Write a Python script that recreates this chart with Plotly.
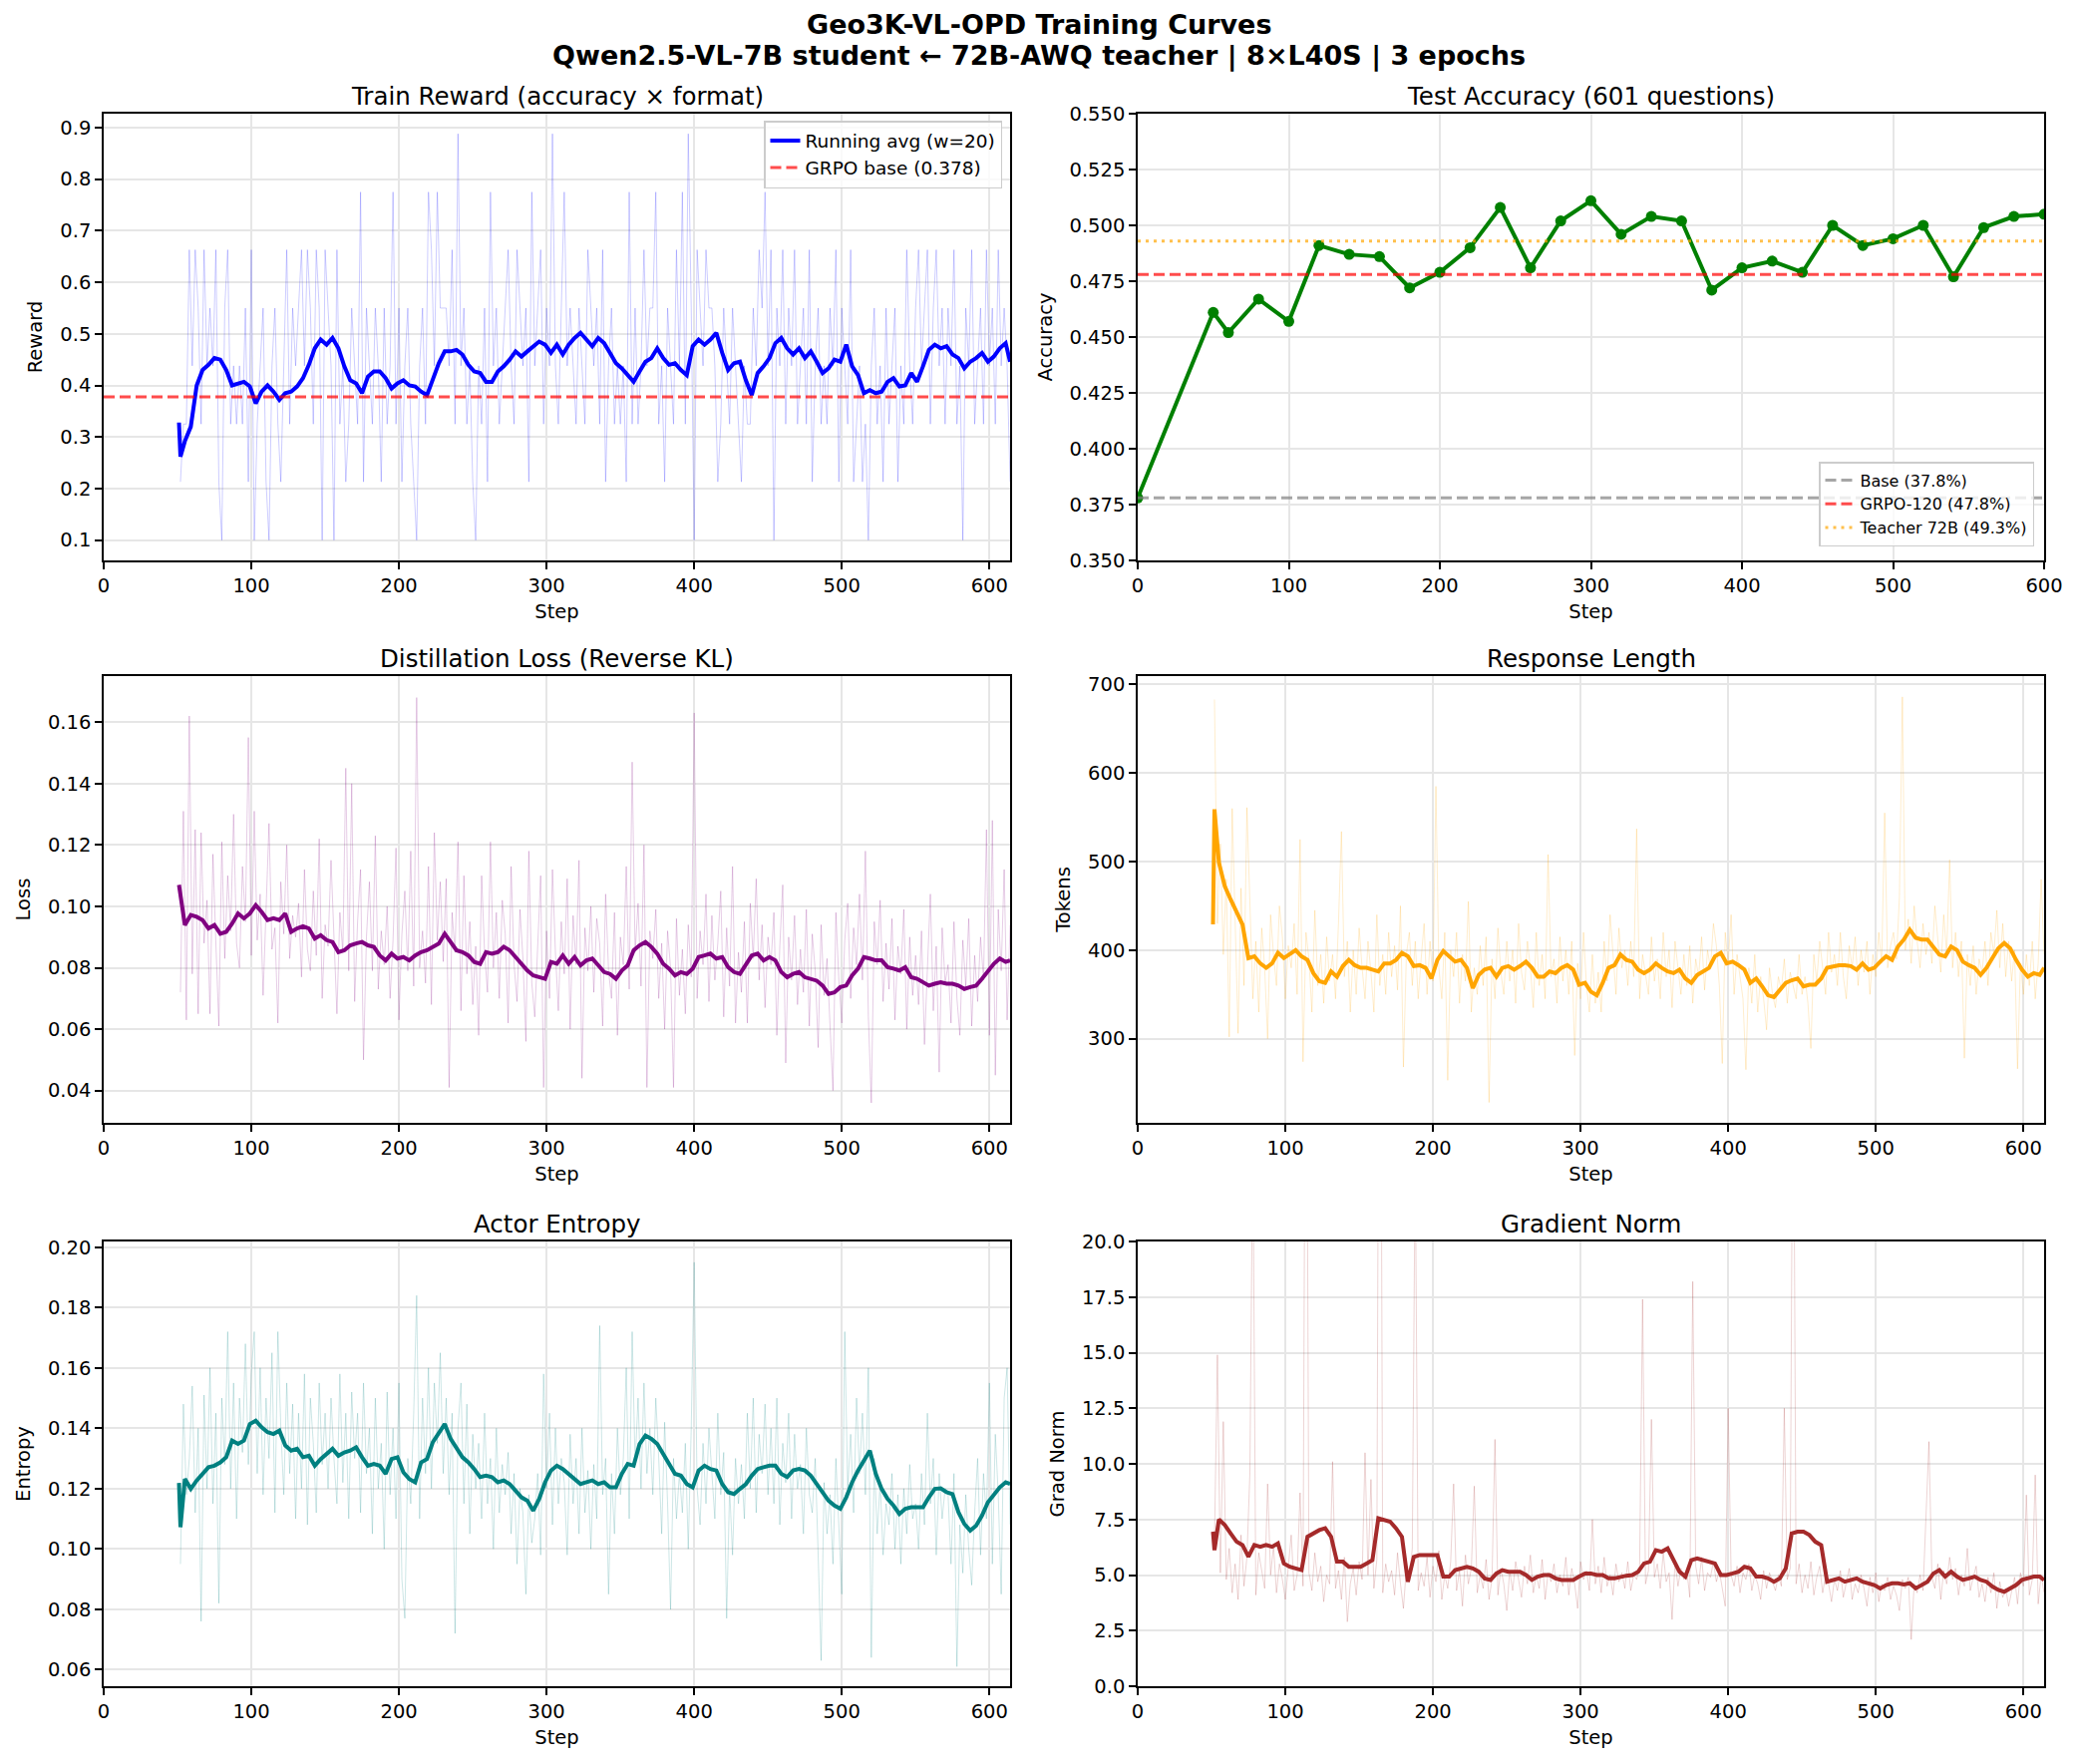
import plotly.graph_objects as go

# ---------------------------------------------------------------- data
RAW_STEPS = list(range(52, 615, 2))
AVG_STEPS = [51, 52] + list(range(55, 612, 4)) + [614]

REWARD_RAW = [
    0.213, 0.325, 0.325, 0.663, 0.438, 0.663, 0.55, 0.325, 0.663, 0.438,
    0.55, 0.438, 0.663, 0.213, 0.1, 0.55, 0.663, 0.325, 0.438, 0.325,
    0.438, 0.325, 0.55, 0.213, 0.663, 0.1, 0.325, 0.438, 0.55, 0.213,
    0.1, 0.438, 0.55, 0.325, 0.213, 0.438, 0.663, 0.325, 0.55, 0.438,
    0.55, 0.663, 0.438, 0.663, 0.55, 0.325, 0.663, 0.55, 0.1, 0.663,
    0.55, 0.438, 0.1, 0.663, 0.325, 0.438, 0.213, 0.325, 0.55, 0.438,
    0.325, 0.775, 0.213, 0.55, 0.438, 0.325, 0.55, 0.438, 0.213, 0.55,
    0.325, 0.438, 0.775, 0.325, 0.55, 0.213, 0.438, 0.55, 0.325, 0.213,
    0.1, 0.438, 0.55, 0.325, 0.775, 0.663, 0.438, 0.775, 0.55, 0.55,
    0.55, 0.438, 0.663, 0.325, 0.888, 0.438, 0.55, 0.325, 0.438, 0.213,
    0.1, 0.438, 0.325, 0.55, 0.213, 0.775, 0.438, 0.55, 0.325, 0.438,
    0.55, 0.663, 0.438, 0.325, 0.663, 0.55, 0.438, 0.55, 0.213, 0.775,
    0.438, 0.55, 0.663, 0.325, 0.55, 0.438, 0.888, 0.438, 0.325, 0.55,
    0.775, 0.438, 0.55, 0.438, 0.325, 0.55, 0.438, 0.325, 0.663, 0.55,
    0.438, 0.55, 0.325, 0.663, 0.213, 0.438, 0.55, 0.325, 0.438, 0.325,
    0.438, 0.213, 0.775, 0.325, 0.55, 0.325, 0.438, 0.663, 0.438, 0.55,
    0.55, 0.775, 0.325, 0.438, 0.213, 0.55, 0.438, 0.325, 0.663, 0.438,
    0.775, 0.325, 0.888, 0.55, 0.1, 0.663, 0.55, 0.438, 0.663, 0.55,
    0.55, 0.438, 0.213, 0.325, 0.55, 0.438, 0.325, 0.55, 0.438, 0.325,
    0.213, 0.438, 0.325, 0.325, 0.55, 0.438, 0.663, 0.55, 0.775, 0.438,
    0.663, 0.1, 0.55, 0.438, 0.663, 0.325, 0.55, 0.438, 0.663, 0.325,
    0.438, 0.55, 0.325, 0.663, 0.213, 0.438, 0.55, 0.325, 0.438, 0.325,
    0.55, 0.438, 0.663, 0.213, 0.55, 0.438, 0.325, 0.663, 0.213, 0.325,
    0.438, 0.213, 0.325, 0.1, 0.438, 0.55, 0.325, 0.438, 0.213, 0.55,
    0.325, 0.438, 0.55, 0.213, 0.438, 0.325, 0.663, 0.438, 0.325, 0.55,
    0.663, 0.438, 0.55, 0.663, 0.325, 0.55, 0.663, 0.438, 0.55, 0.325,
    0.55, 0.438, 0.663, 0.325, 0.438, 0.1, 0.55, 0.438, 0.663, 0.325,
    0.438, 0.55, 0.325, 0.663, 0.438, 0.55, 0.325, 0.663, 0.438, 0.55,
    0.438, 0.213,
]
REWARD_AVG = [
    0.328, 0.262, 0.292, 0.32, 0.40, 0.43, 0.44, 0.453, 0.45, 0.43,
    0.40, 0.404, 0.407, 0.398, 0.365, 0.388, 0.40, 0.388, 0.372, 0.385,
    0.388, 0.398, 0.414, 0.44, 0.472, 0.489, 0.479, 0.492, 0.472, 0.437,
    0.41, 0.404, 0.385, 0.417, 0.427, 0.427, 0.414, 0.394, 0.404, 0.41,
    0.40, 0.398, 0.388, 0.381, 0.414, 0.443, 0.466, 0.466, 0.469, 0.46,
    0.44, 0.427, 0.424, 0.407, 0.407, 0.427, 0.437, 0.45, 0.466, 0.456,
    0.466, 0.476, 0.485, 0.479, 0.463, 0.479, 0.46, 0.479, 0.492, 0.502,
    0.489, 0.476, 0.492, 0.482, 0.463, 0.443, 0.433, 0.42, 0.407, 0.427,
    0.446, 0.453, 0.472, 0.453, 0.44, 0.443, 0.43, 0.42, 0.476, 0.489,
    0.479, 0.489, 0.502, 0.463, 0.43, 0.443, 0.446, 0.41, 0.381, 0.424,
    0.437, 0.453, 0.482, 0.492, 0.472, 0.46, 0.472, 0.453, 0.466, 0.446,
    0.424, 0.433, 0.45, 0.446, 0.479, 0.437, 0.42, 0.385, 0.391, 0.385,
    0.388, 0.407, 0.414, 0.398, 0.40, 0.424, 0.407, 0.437, 0.469, 0.479,
    0.472, 0.476, 0.46, 0.453, 0.433, 0.446, 0.453, 0.463, 0.446, 0.456,
    0.472, 0.482, 0.446,
]
GRPO_BASE_REWARD = 0.378

ACC_STEPS = [0, 50, 60, 80, 100, 120, 140, 160, 180, 200, 220, 240, 260, 280, 300,
             320, 340, 360, 380, 400, 420, 440, 460, 480, 500, 520, 540, 560, 580, 600]
ACC = [0.378, 0.461, 0.452, 0.467, 0.457, 0.491, 0.487, 0.486, 0.472, 0.479,
       0.490, 0.508, 0.481, 0.502, 0.511, 0.496, 0.504, 0.502, 0.471, 0.481,
       0.484, 0.479, 0.500, 0.491, 0.494, 0.500, 0.477, 0.499, 0.504, 0.505]
ACC_BASE = 0.378
ACC_GRPO = 0.478
ACC_TEACHER = 0.493

LOSS_RAW = [
    0.072, 0.131, 0.063, 0.162, 0.078, 0.125, 0.065, 0.124, 0.088, 0.102,
    0.065, 0.117, 0.088, 0.061, 0.121, 0.083, 0.110, 0.092, 0.130, 0.088,
    0.080, 0.113, 0.095, 0.155, 0.084, 0.131, 0.089, 0.104, 0.071, 0.102,
    0.127, 0.086, 0.093, 0.062, 0.108, 0.091, 0.120, 0.083, 0.097, 0.090,
    0.101, 0.077, 0.112, 0.086, 0.079, 0.105, 0.084, 0.122, 0.070, 0.094,
    0.087, 0.115, 0.089, 0.065, 0.098, 0.085, 0.145, 0.079, 0.140, 0.069,
    0.095, 0.112, 0.050, 0.090, 0.108, 0.079, 0.123, 0.073, 0.092, 0.081,
    0.100, 0.070, 0.089, 0.119, 0.063, 0.091, 0.105, 0.079, 0.118, 0.074,
    0.168, 0.080, 0.092, 0.075, 0.113, 0.068, 0.124, 0.089, 0.108, 0.082,
    0.109, 0.041, 0.098, 0.085, 0.121, 0.066, 0.110, 0.078, 0.095, 0.068,
    0.087, 0.058, 0.110, 0.085, 0.072, 0.121, 0.080, 0.098, 0.070, 0.102,
    0.091, 0.062, 0.113, 0.081, 0.069, 0.099, 0.083, 0.056, 0.118, 0.075,
    0.064, 0.087, 0.110, 0.041, 0.092, 0.070, 0.112, 0.085, 0.066, 0.095,
    0.078, 0.109, 0.060, 0.097, 0.081, 0.115, 0.044, 0.093, 0.079, 0.100,
    0.072, 0.096, 0.088, 0.061, 0.104, 0.079, 0.070, 0.098, 0.058, 0.090,
    0.081, 0.113, 0.073, 0.147, 0.085, 0.101, 0.074, 0.120, 0.041, 0.092,
    0.083, 0.099, 0.070, 0.088, 0.060, 0.092, 0.080, 0.041, 0.096, 0.071,
    0.086, 0.065, 0.094, 0.077, 0.163, 0.070, 0.092, 0.081, 0.104, 0.069,
    0.097, 0.076, 0.088, 0.105, 0.064, 0.093, 0.074, 0.113, 0.062, 0.085,
    0.072, 0.095, 0.062, 0.101, 0.083, 0.109, 0.076, 0.094, 0.067, 0.090,
    0.081, 0.098, 0.058, 0.087, 0.107, 0.049, 0.090, 0.076, 0.097, 0.068,
    0.086, 0.072, 0.099, 0.061, 0.091, 0.079, 0.054, 0.094, 0.071, 0.083,
    0.059, 0.040, 0.098, 0.076, 0.062, 0.089, 0.101, 0.070, 0.093, 0.081,
    0.104, 0.076, 0.118, 0.064, 0.036, 0.095, 0.081, 0.102, 0.069, 0.088,
    0.073, 0.096, 0.063, 0.087, 0.078, 0.099, 0.060, 0.090, 0.071, 0.084,
    0.068, 0.092, 0.055, 0.081, 0.104, 0.066, 0.087, 0.046, 0.093, 0.075,
    0.081, 0.062, 0.095, 0.070, 0.058, 0.089, 0.074, 0.096, 0.061, 0.084,
    0.069, 0.090, 0.076, 0.125, 0.058, 0.128, 0.045, 0.099, 0.079, 0.112,
    0.063, 0.094,
]
LOSS_AVG = [
    0.107, 0.104, 0.0939, 0.0972, 0.0966, 0.0955, 0.0928, 0.0939, 0.0911, 0.0917,
    0.0944, 0.0977, 0.0961, 0.0977, 0.1004, 0.0982, 0.0955, 0.0961, 0.0955, 0.0977,
    0.0917, 0.0928, 0.0935, 0.0928, 0.0895, 0.0906, 0.089, 0.0884, 0.0851, 0.0857,
    0.0873, 0.0879, 0.0884, 0.0873, 0.0868, 0.084, 0.0824, 0.0846, 0.083, 0.0835,
    0.0824, 0.084, 0.0851, 0.0857, 0.0868, 0.0879, 0.0911, 0.0884, 0.0857, 0.0851,
    0.084, 0.0819, 0.0813, 0.0851, 0.0846, 0.0851, 0.0868, 0.0857, 0.0835, 0.0813,
    0.0791, 0.0775, 0.0769, 0.0764, 0.0819, 0.0813, 0.084, 0.0813, 0.0835, 0.0808,
    0.0824, 0.083, 0.0808, 0.0786, 0.078, 0.0764, 0.0791, 0.0808, 0.0857, 0.0873,
    0.0884, 0.0868, 0.0846, 0.0813, 0.0797, 0.0775, 0.0786, 0.078, 0.0797, 0.0835,
    0.084, 0.0846, 0.083, 0.0835, 0.0802, 0.0786, 0.078, 0.0813, 0.084, 0.0846,
    0.0824, 0.0835, 0.0824, 0.0786, 0.0769, 0.078, 0.0786, 0.0769, 0.0764, 0.0758,
    0.0742, 0.0715, 0.072, 0.0737, 0.0742, 0.0775, 0.0797, 0.0835, 0.083, 0.0824,
    0.0824, 0.0802, 0.0797, 0.0791, 0.0802, 0.0769, 0.0764, 0.0753, 0.0742, 0.0748,
    0.0753, 0.0748, 0.0748, 0.0742, 0.0731, 0.0737, 0.0742, 0.0764, 0.0791, 0.0813,
    0.083, 0.0819, 0.0824,
]

LENGTH_RAW = [
    683, 430, 520, 395, 480, 302, 560, 420, 306, 470,
    360, 561, 440, 345, 410, 330, 425, 380, 300, 440,
    395, 360, 450, 415, 345, 405, 380, 430, 350, 525,
    274, 420, 390, 330, 445, 360, 395, 340, 415, 365,
    395, 345, 430, 534, 370, 410, 330, 400, 350, 425,
    380, 345, 410, 375, 330, 440, 360, 395, 350, 420,
    370, 405, 355, 450, 268, 395, 420, 360, 410, 345,
    390, 430, 350, 410, 365, 585, 380, 345, 420, 253,
    400, 370, 420, 340, 395, 365, 455, 330, 380, 350,
    405, 360, 415, 228, 390, 345, 425, 375, 350, 410,
    365, 400, 340, 430, 375, 355, 410, 380, 335, 420,
    360, 395, 345, 508, 370, 390, 340, 415, 365, 400,
    350, 410, 281, 385, 345, 420, 360, 330, 395, 340,
    375, 330, 410, 365, 440, 390, 350, 425, 380, 400,
    360, 410, 370, 537, 345, 395, 375, 350, 415, 365,
    390, 345, 420, 370, 400, 335, 410, 380, 350, 395,
    360, 405, 340, 390, 370, 415, 355, 400, 380, 430,
    405, 360, 272, 420, 385, 440, 350, 395, 370, 345,
    265, 380, 340, 395, 330, 370, 345, 310, 380, 350,
    335, 370, 355, 390, 340, 375, 360, 345, 395, 350,
    370, 340, 289, 395, 365, 410, 380, 350, 420, 375,
    395, 360, 420, 370, 345, 405, 380, 415, 360, 400,
    375, 410, 350, 395, 370, 420, 385, 555, 380, 405,
    420, 390, 460, 686, 400, 435, 385, 450, 410, 380,
    430, 395, 420, 385, 450, 410, 375, 440, 395, 502,
    380, 420, 370, 410, 278, 395, 360, 405, 350, 390,
    375, 410, 360, 420, 395, 445, 380, 430, 370, 410,
    365, 400, 266, 385, 350, 395, 360, 410, 345, 385,
    480, 395,
]
LENGTH_AVG = [
    429, 559, 499, 472, 457, 442, 429, 391, 393, 385,
    380, 385, 397, 391, 395, 400, 393, 389, 374, 365,
    363, 376, 370, 382, 389, 383, 380, 380, 378, 376,
    385, 385, 389, 397, 393, 382, 383, 380, 368, 389,
    399, 393, 387, 389, 380, 357, 372, 378, 380, 370,
    380, 382, 378, 382, 387, 380, 370, 370, 376, 374,
    380, 383, 378, 361, 363, 353, 349, 363, 380, 383,
    395, 389, 387, 378, 374, 378, 385, 380, 376, 374,
    378, 368, 363, 372, 376, 380, 393, 397, 385, 387,
    383, 378, 363, 368, 359, 349, 347, 355, 363, 366,
    368, 359, 361, 361, 368, 380, 382, 383, 383, 382,
    378, 385, 378, 380, 387, 393, 389, 404, 412, 423,
    414, 412, 412, 404, 395, 393, 404, 400, 387, 383,
    380, 372, 380, 391, 402, 408, 402, 389, 378, 370,
    374, 372, 380,
]

ENTROPY_RAW = [
    0.095, 0.148, 0.118, 0.130, 0.154, 0.112, 0.140, 0.076, 0.151, 0.120,
    0.160, 0.115, 0.145, 0.082, 0.150, 0.128, 0.172, 0.120, 0.155, 0.110,
    0.150, 0.132, 0.168, 0.128, 0.158, 0.172, 0.125, 0.160, 0.118, 0.150,
    0.130, 0.165, 0.112, 0.172, 0.140, 0.118, 0.155, 0.125, 0.148, 0.110,
    0.145, 0.120, 0.158, 0.108, 0.150, 0.135, 0.112, 0.155, 0.128, 0.145,
    0.120, 0.150, 0.130, 0.115, 0.158, 0.122, 0.145, 0.110, 0.152, 0.130,
    0.145, 0.112, 0.155, 0.125, 0.140, 0.105, 0.150, 0.120, 0.135, 0.100,
    0.152, 0.118, 0.140, 0.110, 0.155, 0.090, 0.077, 0.130, 0.115, 0.145,
    0.184, 0.110, 0.150, 0.125, 0.160, 0.120, 0.155, 0.135, 0.165, 0.125,
    0.150, 0.118, 0.145, 0.072, 0.140, 0.155, 0.115, 0.148, 0.105, 0.138,
    0.120, 0.135, 0.110, 0.145, 0.115, 0.130, 0.100, 0.140, 0.112, 0.128,
    0.118, 0.132, 0.105, 0.125, 0.095, 0.120, 0.112, 0.085, 0.118, 0.102,
    0.110, 0.125, 0.098, 0.158, 0.120, 0.145, 0.108, 0.140, 0.115, 0.130,
    0.122, 0.098, 0.138, 0.115, 0.130, 0.105, 0.140, 0.112, 0.126, 0.100,
    0.128, 0.110, 0.174, 0.118, 0.130, 0.085, 0.125, 0.105, 0.140, 0.118,
    0.130, 0.160, 0.110, 0.172, 0.128, 0.150, 0.120, 0.155, 0.125, 0.140,
    0.118, 0.150, 0.130, 0.105, 0.142, 0.115, 0.080, 0.130, 0.110, 0.125,
    0.112, 0.135, 0.100, 0.140, 0.195, 0.120, 0.108, 0.135, 0.115, 0.140,
    0.125, 0.110, 0.145, 0.118, 0.132, 0.077, 0.120, 0.098, 0.130, 0.115,
    0.128, 0.110, 0.145, 0.120, 0.150, 0.112, 0.138, 0.125, 0.148, 0.118,
    0.140, 0.115, 0.150, 0.108, 0.135, 0.122, 0.145, 0.110, 0.138, 0.120,
    0.128, 0.105, 0.140, 0.118, 0.112, 0.130, 0.098, 0.063, 0.122, 0.105,
    0.118, 0.095, 0.130, 0.108, 0.085, 0.172, 0.120, 0.138, 0.112, 0.150,
    0.125, 0.145, 0.118, 0.160, 0.064, 0.130, 0.105, 0.122, 0.098, 0.115,
    0.108, 0.125, 0.100, 0.118, 0.095, 0.120, 0.105, 0.128, 0.110, 0.115,
    0.100, 0.125, 0.108, 0.145, 0.115, 0.130, 0.098, 0.125, 0.110, 0.120,
    0.118, 0.095, 0.125, 0.061, 0.108, 0.092, 0.118, 0.100, 0.088, 0.112,
    0.130, 0.098, 0.125, 0.110, 0.155, 0.095, 0.138, 0.118, 0.085, 0.150,
    0.160, 0.108,
]
ENTROPY_AVG = [
    0.1219, 0.1072, 0.1232, 0.1199, 0.1227, 0.1249, 0.1271, 0.1276, 0.1287, 0.1304,
    0.1359, 0.1348, 0.1359, 0.1414, 0.1425, 0.1403, 0.1387, 0.1381, 0.1392, 0.1343,
    0.1326, 0.1332, 0.1304, 0.1309, 0.1276, 0.1298, 0.1315, 0.1332, 0.1309, 0.132,
    0.1326, 0.1337, 0.1304, 0.1276, 0.1282, 0.1276, 0.1249, 0.1298, 0.1304, 0.1254,
    0.1232, 0.1221, 0.1287, 0.1298, 0.1354, 0.1387, 0.1414, 0.1365, 0.1337, 0.1304,
    0.1287, 0.1265, 0.1238, 0.1243, 0.1238, 0.1221, 0.1227, 0.1215, 0.1193, 0.1171,
    0.116, 0.1127, 0.1166, 0.1221, 0.126, 0.1276, 0.1265, 0.1249, 0.1232, 0.1215,
    0.1221, 0.1227, 0.1215, 0.1221, 0.1204, 0.1204, 0.1249, 0.1282, 0.1276, 0.1348,
    0.1376, 0.1365, 0.1348, 0.1315, 0.1276, 0.1249, 0.1243, 0.1215, 0.1204, 0.126,
    0.1276, 0.1265, 0.126, 0.1215, 0.1188, 0.1182, 0.1199, 0.1215, 0.1243, 0.1265,
    0.1271, 0.1276, 0.1276, 0.1249, 0.1238, 0.126, 0.1265, 0.126, 0.1243, 0.1215,
    0.1188, 0.116, 0.1144, 0.1133, 0.1171, 0.1221, 0.126, 0.1293, 0.1326, 0.1249,
    0.1199, 0.1166, 0.1144, 0.1116, 0.1133, 0.1138, 0.1138, 0.1138, 0.1171, 0.1199,
    0.1201, 0.1188, 0.1182, 0.1122, 0.1083, 0.1061, 0.1077, 0.1111, 0.1155, 0.1177,
    0.1204, 0.1221, 0.1215,
]

GRAD_RAW = [
    6.5, 14.9, 5.1, 11.9, 4.8, 6.2, 4.2, 5.5, 3.9, 6.8,
    4.5, 5.8, 9.6, 25.0, 4.1, 6.0, 5.2, 4.4, 9.1, 5.0,
    6.3, 4.2, 5.5, 4.8, 3.9, 5.2, 6.8, 4.3, 5.0, 8.7,
    4.5, 38.0, 5.1, 4.3, 6.0, 4.7, 5.4, 3.8, 5.0, 4.6,
    10.1, 4.4, 5.2, 3.9, 5.8, 2.9, 4.6, 5.3, 4.1, 5.6,
    4.8, 10.5, 5.0, 9.3, 4.4, 5.7, 45.0, 4.2, 5.5, 4.7,
    5.2, 4.1, 6.0, 4.6, 3.5, 5.3, 4.8, 6.2, 24.0, 4.3,
    5.1, 4.5, 5.8, 4.0, 5.4, 4.7, 6.1, 3.9, 5.0, 4.4,
    5.6, 9.1, 4.3, 5.2, 3.6, 5.9, 4.6, 5.3, 9.0, 4.2,
    5.0, 4.4, 5.7, 3.9, 4.8, 11.1, 4.1, 5.3, 4.6, 3.4,
    5.2, 4.3, 5.6, 4.8, 4.0, 5.4, 4.6, 5.9, 4.2, 5.0,
    4.4, 5.7, 3.9, 5.1, 4.7, 5.5, 4.2, 5.0, 4.5, 5.8,
    4.1, 5.3, 4.6, 3.5, 5.6, 4.8, 5.2, 4.3, 7.5, 4.6,
    5.4, 4.2, 5.8, 4.5, 5.0, 4.1, 5.5, 4.7, 5.1, 4.4,
    5.6, 4.3, 5.0, 4.8, 5.4, 17.4, 4.6, 5.2, 12.0, 4.9,
    5.5, 4.4, 6.0, 4.7, 5.1, 3.0, 5.6, 4.5, 5.3, 4.8,
    5.2, 4.0, 18.2, 5.4, 4.6, 5.8, 4.3, 5.1, 4.9, 5.6,
    4.7, 5.2, 4.4, 3.6, 12.5, 5.0, 4.5, 5.4, 4.2, 5.1,
    4.8, 5.5, 4.3, 5.0, 4.6, 3.9, 5.2, 4.4, 5.1, 4.7,
    4.3, 5.0, 4.5, 12.5, 4.8, 5.3, 32.0, 4.6, 5.5, 4.2,
    5.0, 4.4, 5.6, 4.1, 4.9, 5.4, 4.2, 5.0, 4.6, 3.8,
    4.8, 4.3, 5.2, 4.0, 4.7, 5.3, 3.9, 4.6, 4.2, 5.0,
    4.4, 3.6, 4.9, 4.2, 5.1, 3.8, 4.6, 4.3, 4.9, 3.9,
    4.5, 4.1, 3.4, 4.8, 4.4, 4.9, 2.1, 4.6, 4.2, 5.0,
    4.3, 8.0, 11.0, 4.9, 4.4, 5.5, 3.9, 5.2, 4.6, 5.8,
    4.8, 5.3, 4.1, 5.0, 4.5, 6.2, 4.3, 4.9, 5.4, 4.0,
    4.6, 3.8, 4.9, 4.2, 5.1, 3.5, 4.7, 4.0, 4.4, 3.6,
    4.3, 4.9, 3.7, 5.1, 4.5, 8.6, 4.1, 4.8, 9.5, 3.7,
    5.0, 4.2,
]
GRAD_AVG = [
    6.95, 6.12, 7.5, 7.25, 6.87, 6.5, 6.35, 5.82, 6.35, 6.27,
    6.35, 6.27, 6.42, 5.52, 5.37, 5.3, 5.22, 6.72, 6.87, 7.02,
    7.1, 6.72, 5.6, 5.6, 5.37, 5.37, 5.37, 5.52, 5.67, 7.55,
    7.47, 7.4, 7.1, 6.72, 4.7, 5.82, 5.9, 5.9, 5.9, 5.9,
    4.93, 4.93, 5.22, 5.3, 5.37, 5.3, 5.15, 4.85, 4.78, 5.07,
    5.22, 5.15, 5.15, 5.15, 5.0, 4.78, 4.93, 5.0, 5.0, 4.85,
    4.78, 4.78, 4.78, 4.93, 5.07, 5.07, 5.0, 5.0, 4.85, 4.85,
    4.93, 4.97, 5.0, 5.15, 5.52, 5.6, 6.12, 6.05, 6.2, 5.67,
    5.15, 4.93, 5.67, 5.75, 5.67, 5.6, 5.52, 5.0, 5.0, 5.07,
    5.15, 5.37, 5.3, 4.93, 4.93, 4.85, 4.7, 4.85, 5.3, 6.87,
    6.95, 6.95, 6.8, 6.5, 6.35, 4.7, 4.78, 4.85, 4.7, 4.78,
    4.85, 4.7, 4.63, 4.55, 4.4, 4.55, 4.63, 4.63, 4.58, 4.63,
    4.4, 4.55, 4.7, 5.07, 5.22, 4.93, 5.15, 4.93, 4.78, 4.85,
    4.93, 4.78, 4.7, 4.48, 4.33, 4.25, 4.4, 4.55, 4.78, 4.85,
    4.93, 4.93, 4.78,
]

TITLE_1 = "Geo3K-VL-OPD Training Curves"
TITLE_2 = "Qwen2.5-VL-7B student ← 72B-AWQ teacher | 8×L40S | 3 epochs"
PANEL_TITLES = ["Train Reward (accuracy × format)", "Test Accuracy (601 questions)",
                "Distillation Loss (Reverse KL)", "Response Length",
                "Actor Entropy", "Gradient Norm"]
Y_LABELS = ["Reward", "Accuracy", "Loss", "Tokens", "Entropy", "Grad Norm"]

# ---------------------------------------------------------------- layout constants
W, H = 2084, 1769
FONT = "DejaVu Sans"
COLS = [(104.0, 1013.0), (1141.0, 2050.0)]
ROWS = [(114.0, 562.0), (678.0, 1126.0), (1245.0, 1691.0)]
TICK_SIZE = 19.5
LABEL_SIZE = 19.5
TITLE_SIZE = 24.5
SUPTITLE_SIZE = 27


def px_x(v):
    return v / W


def px_y(v):
    return 1 - v / H


fig = go.Figure()


def axes_ids(i):
    return ("x" if i == 1 else f"x{i}"), ("y" if i == 1 else f"y{i}")


def add(i, x, y, **kw):
    xa, ya = axes_ids(i)
    fig.add_trace(go.Scatter(x=x, y=y, xaxis=xa, yaxis=ya, **kw))


X_MAX = 614
RED = "rgba(255,0,0,0.7)"
DASH = "11px,5px"

# Panel 1: train reward
add(1, RAW_STEPS, REWARD_RAW, mode="lines", line=dict(color="rgba(0,0,255,0.2)", width=1),
    showlegend=False, hoverinfo="skip")
add(1, AVG_STEPS, REWARD_AVG, mode="lines", line=dict(color="#0000ff", width=4),
    name="Running avg (w=20)", legend="legend")
add(1, [0, X_MAX], [GRPO_BASE_REWARD, GRPO_BASE_REWARD], mode="lines",
    line=dict(color=RED, width=3, dash=DASH), name="GRPO base (0.378)", legend="legend")

# Panel 2: test accuracy
add(2, ACC_STEPS, ACC, mode="lines+markers", line=dict(color="#008000", width=4),
    marker=dict(color="#008000", size=11), showlegend=False)
add(2, [0, 600], [ACC_BASE, ACC_BASE], mode="lines",
    line=dict(color="rgba(128,128,128,0.7)", width=3, dash=DASH),
    name="Base (37.8%)", legend="legend2")
add(2, [0, 600], [ACC_GRPO, ACC_GRPO], mode="lines",
    line=dict(color=RED, width=3, dash=DASH), name="GRPO-120 (47.8%)", legend="legend2")
add(2, [0, 600], [ACC_TEACHER, ACC_TEACHER], mode="lines",
    line=dict(color="rgba(255,165,0,0.7)", width=3, dash="3px,5px"),
    name="Teacher 72B (49.3%)", legend="legend2")

# Panel 3: loss
add(3, RAW_STEPS, LOSS_RAW, mode="lines", line=dict(color="rgba(128,0,128,0.2)", width=1),
    showlegend=False, hoverinfo="skip")
add(3, AVG_STEPS, LOSS_AVG, mode="lines", line=dict(color="#800080", width=4), showlegend=False)

# Panel 4: length
add(4, RAW_STEPS, LENGTH_RAW, mode="lines", line=dict(color="rgba(255,165,0,0.2)", width=1),
    showlegend=False, hoverinfo="skip")
add(4, AVG_STEPS, LENGTH_AVG, mode="lines", line=dict(color="#ffa500", width=4), showlegend=False)

# Panel 5: entropy
add(5, RAW_STEPS, ENTROPY_RAW, mode="lines", line=dict(color="rgba(0,128,128,0.2)", width=1),
    showlegend=False, hoverinfo="skip")
add(5, AVG_STEPS, ENTROPY_AVG, mode="lines", line=dict(color="#008080", width=4), showlegend=False)

# Panel 6: grad norm
add(6, RAW_STEPS, GRAD_RAW, mode="lines", line=dict(color="rgba(165,42,42,0.2)", width=1),
    showlegend=False, hoverinfo="skip")
add(6, AVG_STEPS, GRAD_AVG, mode="lines", line=dict(color="#a52a2a", width=4), showlegend=False)

# ---------------------------------------------------------------- axes
Y_SPECS = [
    dict(range=[0.0606, 0.927], tick0=0.1, dtick=0.1, tickformat=".1f"),
    dict(range=[0.35, 0.55], tick0=0.35, dtick=0.025, tickformat=".3f"),
    dict(range=[0.0295, 0.175], tick0=0.04, dtick=0.02, tickformat=".2f"),
    dict(range=[205, 709.5], tick0=300, dtick=100, tickformat="d"),
    dict(range=[0.0545, 0.2019], tick0=0.06, dtick=0.02, tickformat=".2f"),
    dict(range=[0, 20], tick0=0, dtick=2.5, tickformat=".1f"),
]
X_RANGES = [[0, X_MAX], [0, 600], [0, X_MAX], [0, X_MAX], [0, X_MAX], [0, X_MAX]]

common = dict(showline=True, linecolor="black", linewidth=1.6, mirror=True,
              ticks="outside", ticklen=7, tickwidth=1.6, tickcolor="black",
              showgrid=True, gridcolor="#e6e6e6", gridwidth=1.6, zeroline=False,
              automargin=False,
              tickfont=dict(family=FONT, size=TICK_SIZE, color="black"))

annotations = []
for i in range(1, 7):
    r, c = (i - 1) // 2, (i - 1) % 2
    x0, x1 = COLS[c]
    y0, y1 = ROWS[r]
    xa, ya = axes_ids(i)
    xkey = "xaxis" if i == 1 else f"xaxis{i}"
    ykey = "yaxis" if i == 1 else f"yaxis{i}"
    fig.layout[xkey] = dict(common, domain=[px_x(x0), px_x(x1)], anchor=ya,
                            range=X_RANGES[i - 1], tick0=0, dtick=100,
                            title=dict(text="Step", standoff=8,
                                       font=dict(family=FONT, size=LABEL_SIZE, color="black")))
    fig.layout[ykey] = dict(common, domain=[px_y(y1), px_y(y0)], anchor=xa,
                            title=dict(text=Y_LABELS[i - 1], standoff=12,
                                       font=dict(family=FONT, size=LABEL_SIZE, color="black")),
                            **Y_SPECS[i - 1])
    annotations.append(dict(text=PANEL_TITLES[i - 1], xref="paper", yref="paper",
                            x=px_x((x0 + x1) / 2), y=px_y(y0 - 18), xanchor="center",
                            yanchor="middle", showarrow=False,
                            font=dict(family=FONT, size=TITLE_SIZE, color="black")))

annotations.append(dict(text=f"<b>{TITLE_1}</b>", xref="paper", yref="paper", x=0.5,
                        y=px_y(24), xanchor="center", yanchor="middle", showarrow=False,
                        font=dict(family=FONT, size=SUPTITLE_SIZE, color="black")))
annotations.append(dict(text=f"<b>{TITLE_2}</b>", xref="paper", yref="paper", x=0.5,
                        y=px_y(56), xanchor="center", yanchor="middle", showarrow=False,
                        font=dict(family=FONT, size=SUPTITLE_SIZE, color="black")))

fig.update_layout(
    template="none",
    width=W, height=H, margin=dict(l=0, r=0, t=0, b=0, pad=0, autoexpand=False),
    paper_bgcolor="white", plot_bgcolor="white",
    font=dict(family=FONT, color="black"),
    annotations=annotations,
    legend=dict(x=px_x(1005), y=px_y(121), xanchor="right", yanchor="top",
                bgcolor="rgba(255,255,255,0.8)", bordercolor="#cccccc", borderwidth=1.5,
                font=dict(family=FONT, size=18.5, color="black")),
    legend2=dict(x=px_x(2040), y=px_y(548), xanchor="right", yanchor="bottom",
                 bgcolor="rgba(255,255,255,0.8)", bordercolor="#cccccc", borderwidth=1.5,
                 font=dict(family=FONT, size=16, color="black")),
)

fig.write_html("out.html")
